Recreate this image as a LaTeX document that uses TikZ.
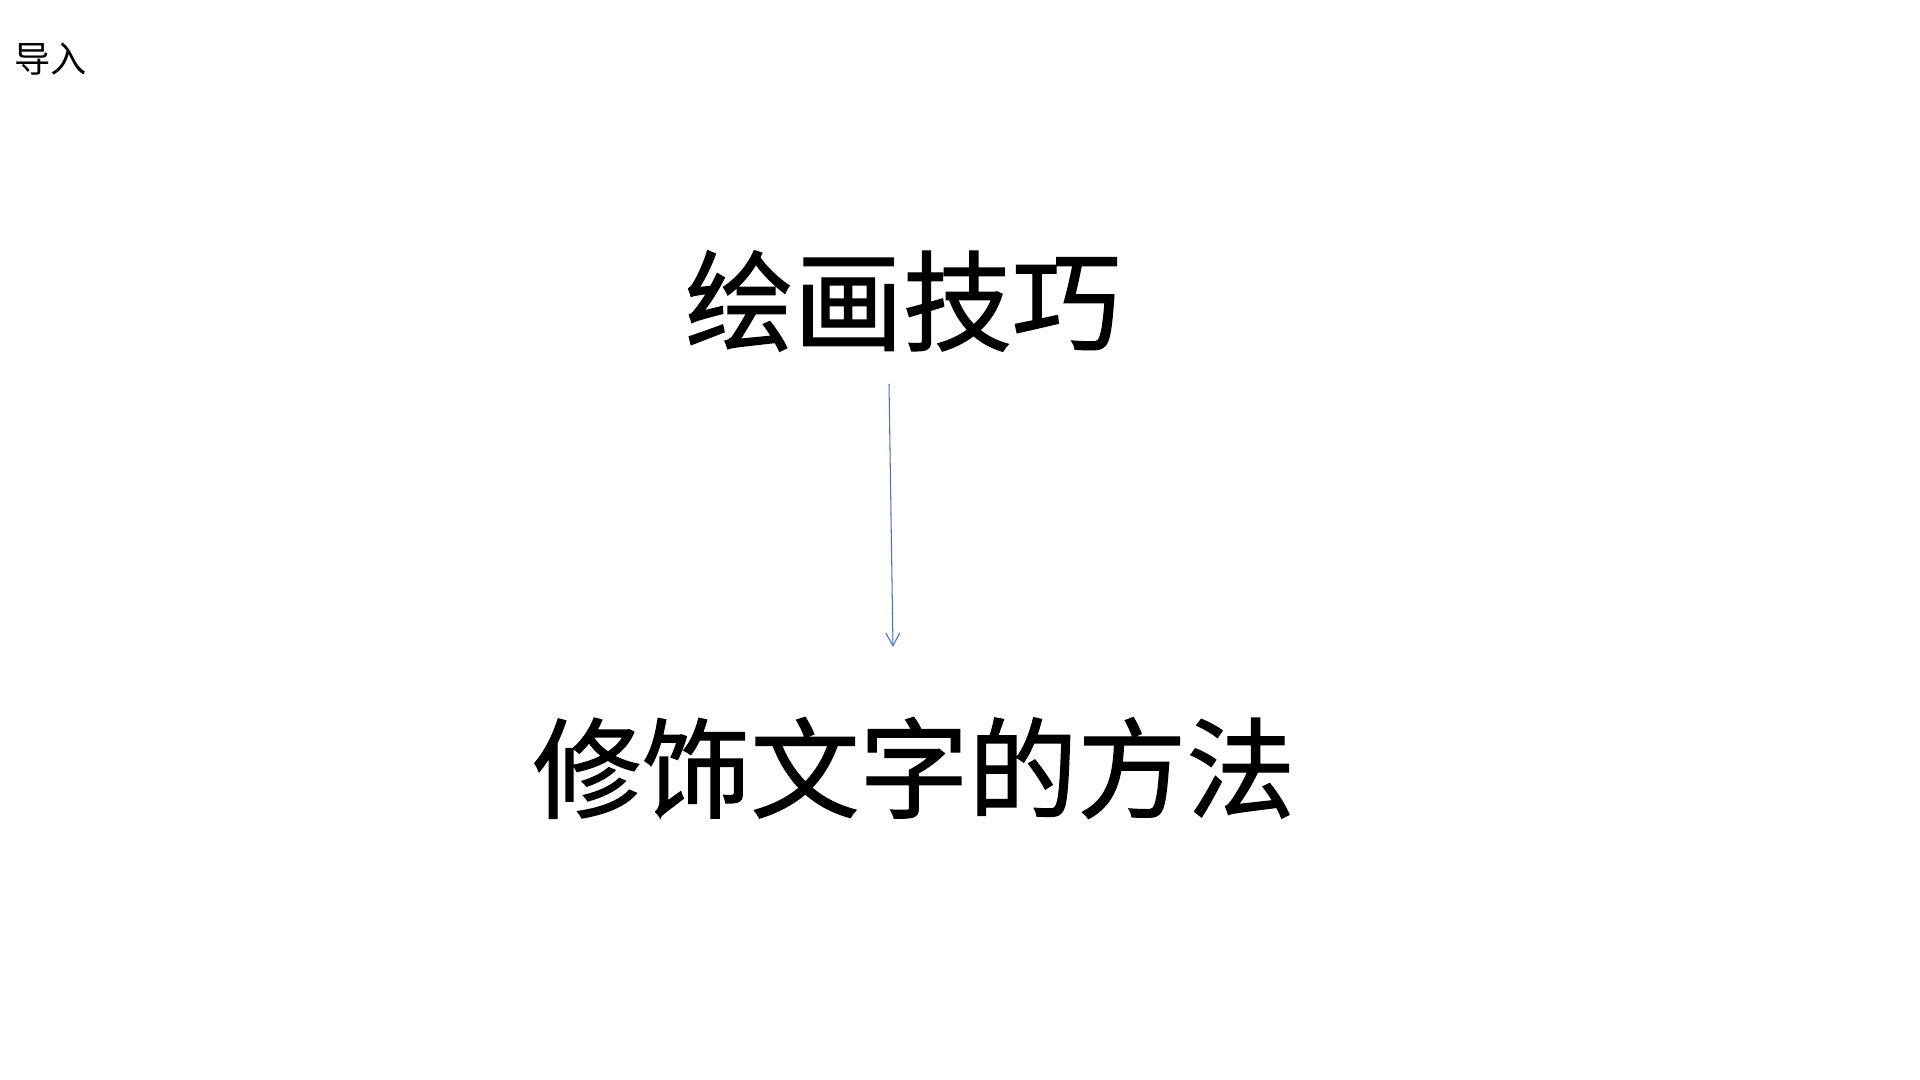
\documentclass[tikz,border=0pt]{standalone}
\usepackage{fontspec}
\setmainfont{Noto Sans CJK SC}
\newfontfamily\heavycjk[FakeBold=1.2]{Noto Sans CJK SC}
\usetikzlibrary{arrows.meta}
\tikzset{
  big/.style={inner sep=0pt, font=\heavycjk\fontsize{31}{36}\selectfont},
  small/.style={inner sep=0pt, font=\fontsize{10.3}{12}\selectfont},
  link/.style={draw={rgb,255:red,68;green,114;blue,196}, line width=.3pt,
    -{Straight Barb[length=3.7pt,width=4pt]}}
}
\begin{document}
\begin{tikzpicture}
      \useasboundingbox (0,0) rectangle (19.2,10.8);
      \node[small] (intro) at (0.51,10.21) {导入};
      \node[big] (skill) at (9.03,7.79) {绘画技巧};
      \node[big] (method) at (9.14,3.12) {修饰文字的方法};
      % arrow between the two lines
      \coordinate (from) at (8.89,6.96);
      \coordinate (to) at (8.93,4.33);
      \draw[link] (from) -- (to);
    \end{tikzpicture}
\end{document}
